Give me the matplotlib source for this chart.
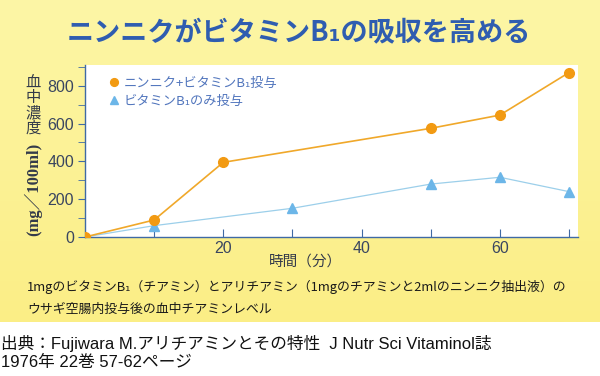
import matplotlib
matplotlib.use("Agg")
import matplotlib.pyplot as plt
import numpy as np
from matplotlib.colors import LinearSegmentedColormap

plt.rcParams['font.family'] = ['Noto Sans CJK JP', 'DejaVu Sans']

# data
time_garlic = [0, 10, 20, 50, 60, 70]
conc_garlic = [0, 90, 395, 575, 645, 870]
time_b1 = [0, 10, 30, 50, 60, 70]
conc_b1 = [0, 60, 152, 280, 316, 240]
label_garlic = "ニンニク+ビタミンB\u2081投与"
label_b1 = "ビタミンB\u2081のみ投与"
xtick_major = [20, 40, 60]

fig = plt.figure(figsize=(6, 3.76), dpi=100)
fig.patch.set_facecolor('white')

# yellow background with gradient
bg = fig.add_axes([0, 0.1436, 1, 0.8564], zorder=-10)
grad = np.linspace(0, 1, 256).reshape(-1, 1)
cmap = LinearSegmentedColormap.from_list('y', ['#fdf6a6', '#fbee86'])
bg.imshow(grad, aspect='auto', cmap=cmap, extent=[0, 1, 0, 1])
bg.set_axis_off()

ax = fig.add_axes([85/600, 1 - 237/376, (578-85)/600, (237-65)/376])
ax.set_facecolor('white')
ax.plot(time_garlic, conc_garlic, color='#f0a82a', lw=1.2, marker='o',
        markersize=7, markerfacecolor='#f29a12', markeredgecolor='#f29a12',
        label=label_garlic, zorder=3)
ax.plot(time_b1, conc_b1, color='#9ccfea', lw=0.9, marker='^',
        markersize=6.5, markerfacecolor='#6cb6e8', markeredgecolor='#6cb6e8',
        label=label_b1, zorder=2)

ax.set_xlim(0, 71.3)
ax.set_ylim(0, 910)
for s in ['top', 'right']:
    ax.spines[s].set_visible(False)
for s in ['left', 'bottom']:
    ax.spines[s].set_color('#3f6aa5')
    ax.spines[s].set_linewidth(1.0)

ax.set_xticks(np.arange(10, 71, 10))
ax.set_xticklabels([str(v) if v in xtick_major else '' for v in np.arange(10, 71, 10)])
ax.tick_params(axis='x', direction='in', length=6, color='#3f6aa5',
               labelsize=11.5, labelcolor='#3a4660', pad=3)
ax.set_yticks([0, 200, 400, 600, 800])
ax.set_yticks(np.arange(100, 901, 200), minor=True)
ax.tick_params(axis='y', which='both', direction='out', length=5, color='#3f6aa5',
               labelsize=11.5, labelcolor='#3a4660', pad=3)
for t in ax.get_xticklabels() + ax.get_yticklabels():
    t.set_family(['Liberation Sans', 'DejaVu Sans'])

leg = ax.legend(loc='upper left', bbox_to_anchor=(0.025, 1.0), frameon=False,
                fontsize=9.5, handlelength=0.8, handletextpad=0.3,
                labelspacing=0.35, markerscale=0.8)
for t in leg.get_texts():
    t.set_color('#5276bd')
for h in leg.legend_handles:
    h.set_linestyle('none')

# title
fig.text(0.498, 1 - 33/376, "ニンニクがビタミンB\u2081の吸収を高める", ha='center', va='center',
         fontsize=19.5, fontweight='bold', color='#2f5db0')

# y label: stacked characters + rotated unit
for i, ch in enumerate("血中濃度"):
    fig.text(33/600, 1 - (82 + i*15.5)/376, ch, ha='center', va='center',
             fontsize=11, color='#333a4a')
fig.text(33/600, 1 - 189/376, "(mg／100ml)", ha='center', va='center', rotation=90,
         fontsize=12, color='#333a4a', family=['Liberation Serif', 'Noto Sans CJK JP'],
         fontweight='bold')

# x label
fig.text(305/600, 1 - 262/376, "時間（分）", ha='center', va='center',
         fontsize=10.5, color='#333a4a')

# caption
fig.text(27/600, 1 - 287/376,
         "1mgのビタミンB\u2081（チアミン）とアリチアミン（1mgのチアミンと2mlのニンニク抽出液）の",
         ha='left', va='center', fontsize=9.3, color='#1a1a1a')
fig.text(27/600, 1 - 309/376, "ウサギ空腸内投与後の血中チアミンレベル",
         ha='left', va='center', fontsize=9.3, color='#1a1a1a')

# citation
fig.text(1/600, 1 - 344/376,
         "出典：Fujiwara M.アリチアミンとその特性  J Nutr Sci Vitaminol誌",
         ha='left', va='center', fontsize=12, color='#111111',
         family=['Liberation Sans', 'Noto Sans CJK JP'])
fig.text(1/600, 1 - 362/376, "1976年 22巻 57-62ページ",
         ha='left', va='center', fontsize=12, color='#111111',
         family=['Liberation Sans', 'Noto Sans CJK JP'])

fig.savefig('out.png', dpi=100)
